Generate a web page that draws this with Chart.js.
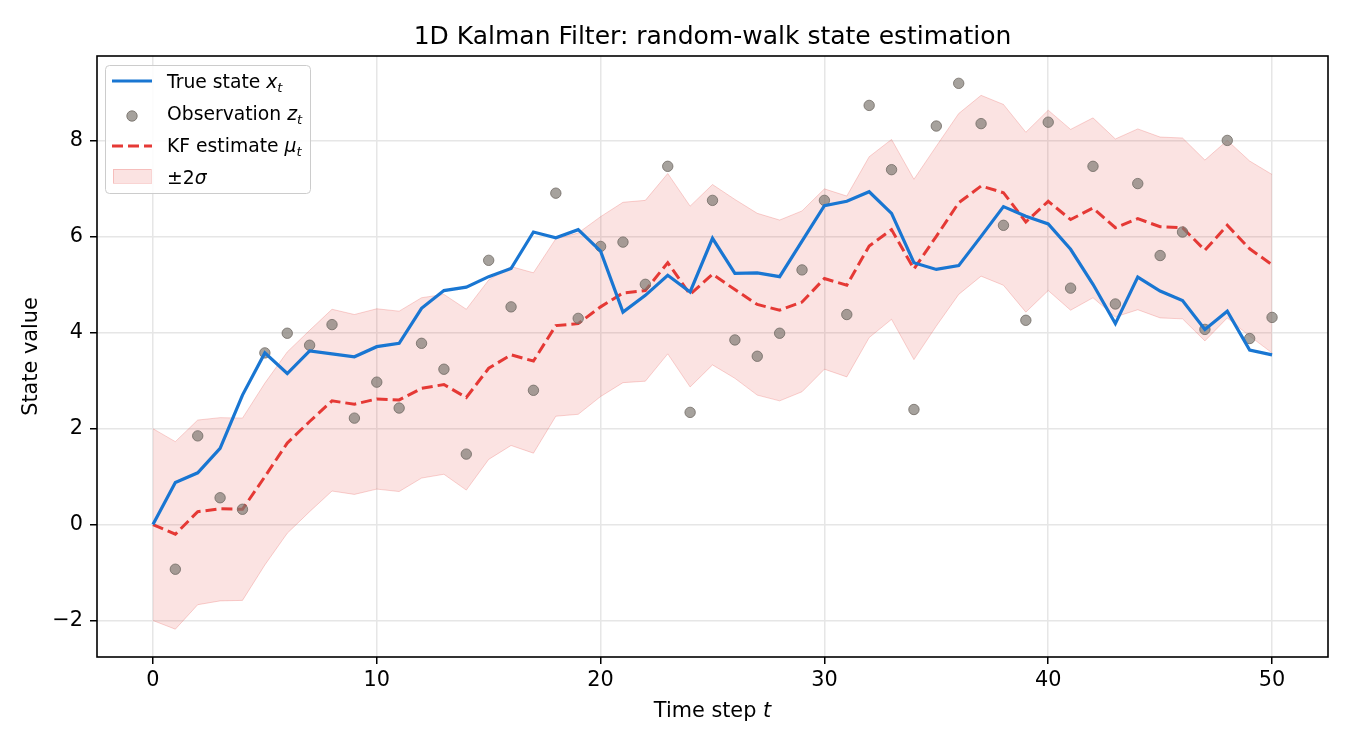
<!DOCTYPE html>
<html lang="en">
<head>
<meta charset="UTF-8">
<title>1D Kalman Filter: random-walk state estimation</title>
<style>
  html, body { margin: 0; padding: 0; background: #fff; }
  #wrap { width: 1350px; height: 750px; }
</style>
</head>
<body>
<div id="wrap"><canvas id="myChart" width="1350" height="750"></canvas></div>
<script src="https://cdn.jsdelivr.net/npm/chart.js"></script>
<script>
// values
const timeSteps = [0, 1, 2, 3, 4, 5, 6, 7, 8, 9, 10, 11, 12, 13, 14, 15, 16, 17, 18, 19, 20,
  21, 22, 23, 24, 25, 26, 27, 28, 29, 30, 31, 32, 33, 34, 35, 36, 37, 38, 39, 40,
  41, 42, 43, 44, 45, 46, 47, 48, 49, 50];

const trueState = [0, 0.88, 1.08, 1.59, 2.70, 3.58, 3.15, 3.62, 3.56, 3.50, 3.71,
  3.78, 4.51, 4.88, 4.95, 5.17, 5.34, 6.10, 5.98, 6.15, 5.70,
  4.43, 4.78, 5.20, 4.85, 5.97, 5.24, 5.25, 5.17, 5.91, 6.65,
  6.74, 6.94, 6.49, 5.46, 5.32, 5.40, 6.01, 6.63, 6.43, 6.27,
  5.74, 5.01, 4.19, 5.16, 4.87, 4.67, 4.07, 4.45, 3.64, 3.54];

const observations = [null, -0.93, 1.85, 0.56, 0.32, 3.58, 3.99, 3.74, 4.17, 2.22, 2.97,
  2.43, 3.78, 3.24, 1.47, 5.51, 4.54, 2.80, 6.91, 4.30, 5.80,
  5.89, 5.01, 7.47, 2.34, 6.76, 3.85, 3.51, 3.99, 5.31, 6.76,
  4.38, 8.74, 7.40, 2.40, 8.31, 9.20, 8.36, 6.24, 4.26, 8.39,
  4.93, 7.47, 4.60, 7.11, 5.61, 6.10, 4.07, 8.01, 3.88, 4.32];

const kfEstimate = [0, -0.20, 0.27, 0.33, 0.32, 1.00, 1.70, 2.15, 2.58, 2.51, 2.62,
  2.60, 2.84, 2.92, 2.65, 3.26, 3.54, 3.41, 4.15, 4.19, 4.54,
  4.83, 4.88, 5.46, 4.80, 5.22, 4.90, 4.59, 4.47, 4.64, 5.13,
  4.99, 5.81, 6.15, 5.33, 6.01, 6.71, 7.06, 6.92, 6.31, 6.74,
  6.36, 6.60, 6.19, 6.38, 6.21, 6.19, 5.72, 6.24, 5.75, 5.42];

const bandUpper = [2.00, 1.73, 2.18, 2.23, 2.22, 2.95, 3.60, 4.05, 4.49, 4.38, 4.50,
  4.45, 4.73, 4.80, 4.49, 5.10, 5.38, 5.25, 5.96, 6.08, 6.42,
  6.72, 6.76, 7.32, 6.64, 7.09, 6.78, 6.49, 6.35, 6.54, 7.00,
  6.85, 7.67, 8.03, 7.20, 7.89, 8.57, 8.95, 8.76, 8.18, 8.64,
  8.24, 8.48, 8.04, 8.25, 8.08, 8.06, 7.60, 8.01, 7.58, 7.30];

const bandLower = [-2.00, -2.18, -1.67, -1.59, -1.58, -0.84, -0.18, 0.27, 0.70, 0.63, 0.74,
  0.69, 0.97, 1.05, 0.72, 1.36, 1.65, 1.49, 2.26, 2.30, 2.67,
  2.96, 2.99, 3.56, 2.87, 3.33, 3.05, 2.70, 2.58, 2.77, 3.24,
  3.08, 3.90, 4.28, 3.44, 4.14, 4.80, 5.18, 4.99, 4.43, 4.88,
  4.47, 4.73, 4.33, 4.48, 4.31, 4.29, 3.83, 4.31, 3.93, 3.58];

const xTicks = [0, 10, 20, 30, 40, 50];
const yTicks = [-2, 0, 2, 4, 6, 8];

const FONT = '"DejaVu Sans", sans-serif';
const BLUE = '#1976d2';
const RED = '#e53935';
const BAND = 'rgba(229, 57, 53, 0.14)';
const BAND_EDGE = 'rgba(229, 57, 53, 0.22)';
const DOT = 'rgba(128, 122, 116, 0.7)';
const DOT_EDGE = 'rgba(112, 106, 100, 0.8)';

function pts(arr) {
  const out = [];
  for (let i = 0; i < timeSteps.length; i++) {
    if (arr[i] !== null) out.push({ x: timeSteps[i], y: arr[i] });
  }
  return out;
}

// draws pieces of text one after another (normal / italic / subscript)
function drawPieces(ctx, pieces, x, y, align) {
  let total = 0;
  for (const p of pieces) {
    ctx.font = p.font;
    total += ctx.measureText(p.text).width;
  }
  let cx = align === 'center' ? x - total / 2 : x;
  ctx.textAlign = 'left';
  ctx.textBaseline = 'alphabetic';
  for (const p of pieces) {
    ctx.font = p.font;
    ctx.fillText(p.text, cx, y + (p.dy || 0));
    cx += ctx.measureText(p.text).width;
  }
}

const decorPlugin = {
  id: 'decor',
  afterDraw(chart) {
    const ctx = chart.ctx;
    const a = chart.chartArea;
    ctx.save();

    // axes frame
    ctx.strokeStyle = '#000';
    ctx.lineWidth = 1.6;
    ctx.strokeRect(a.left, a.top, a.right - a.left, a.bottom - a.top);

    // title
    ctx.fillStyle = '#000';
    ctx.font = '25px ' + FONT;
    ctx.textAlign = 'center';
    ctx.textBaseline = 'alphabetic';
    ctx.fillText('1D Kalman Filter: random-walk state estimation', (a.left + a.right) / 2, 44);

    // x axis title
    drawPieces(ctx, [
      { text: 'Time step ', font: '20.8px ' + FONT },
      { text: 't', font: 'italic 20.8px ' + FONT }
    ], (a.left + a.right) / 2, 717, 'center');

    // legend
    const lx = 105.5, ly = 65.5, lw = 205, lh = 128;
    ctx.beginPath();
    ctx.roundRect(lx, ly, lw, lh, 4);
    ctx.fillStyle = 'rgba(255,255,255,0.85)';
    ctx.fill();
    ctx.strokeStyle = '#cccccc';
    ctx.lineWidth = 1;
    ctx.stroke();

    // row 1: true state
    ctx.strokeStyle = BLUE;
    ctx.lineWidth = 3.2;
    ctx.setLineDash([]);
    ctx.beginPath();
    ctx.moveTo(112, 81);
    ctx.lineTo(152, 81);
    ctx.stroke();

    // row 2: observation
    ctx.beginPath();
    ctx.arc(132, 116, 5.2, 0, Math.PI * 2);
    ctx.fillStyle = DOT;
    ctx.fill();
    ctx.strokeStyle = DOT_EDGE;
    ctx.lineWidth = 1;
    ctx.stroke();

    // row 3: KF estimate
    ctx.strokeStyle = RED;
    ctx.lineWidth = 3;
    ctx.setLineDash([11, 5]);
    ctx.beginPath();
    ctx.moveTo(112, 146);
    ctx.lineTo(152, 146);
    ctx.stroke();
    ctx.setLineDash([]);

    // row 4: band patch
    ctx.fillStyle = BAND;
    ctx.fillRect(113, 169, 38, 14);
    ctx.strokeStyle = BAND_EDGE;
    ctx.lineWidth = 1;
    ctx.strokeRect(113.5, 169.5, 38, 14);

    ctx.fillStyle = '#000';
    const nf = '18.75px ' + FONT, itf = 'italic 18.75px ' + FONT, sub = 'italic 13px ' + FONT;
    drawPieces(ctx, [{ text: 'True state ', font: nf }, { text: 'x', font: itf }, { text: 't', font: sub, dy: 4 }], 167, 88);
    drawPieces(ctx, [{ text: 'Observation ', font: nf }, { text: 'z', font: itf }, { text: 't', font: sub, dy: 4 }], 167, 120);
    drawPieces(ctx, [{ text: 'KF estimate ', font: nf }, { text: '\u03bc', font: itf }, { text: 't', font: sub, dy: 4 }], 167, 152);
    drawPieces(ctx, [{ text: '\u00b12', font: nf }, { text: '\u03c3', font: itf }], 167, 184);

    ctx.restore();
  }
};

const ctx = document.getElementById('myChart');

new Chart(ctx, {
  type: 'line',
  data: {
    datasets: [
      {
        label: 'True state',
        data: pts(trueState),
        borderColor: BLUE,
        borderWidth: 3.2,
        pointRadius: 0,
        tension: 0,
        fill: false
      },
      {
        type: 'scatter',
        label: 'Observation',
        data: pts(observations),
        showLine: false,
        pointRadius: 5.2,
        pointBackgroundColor: DOT,
        pointBorderColor: DOT_EDGE,
        pointBorderWidth: 1
      },
      {
        label: 'KF estimate',
        data: pts(kfEstimate),
        borderColor: RED,
        borderWidth: 3,
        borderDash: [11, 5],
        pointRadius: 0,
        tension: 0,
        fill: false
      },
      {
        label: 'lower',
        data: pts(bandLower),
        borderColor: BAND_EDGE,
        borderWidth: 1,
        pointRadius: 0,
        tension: 0,
        fill: false
      },
      {
        label: '\u00b12\u03c3',
        data: pts(bandUpper),
        borderColor: BAND_EDGE,
        borderWidth: 1,
        pointRadius: 0,
        tension: 0,
        backgroundColor: BAND,
        fill: '-1'
      }
    ]
  },
  options: {
    responsive: false,
    animation: false,
    devicePixelRatio: 1,
    layout: { padding: { top: 56, right: 22, left: 0, bottom: 0 } },
    plugins: {
      legend: { display: false },
      title: { display: false },
      tooltip: { enabled: false }
    },
    scales: {
      x: {
        type: 'linear',
        min: -2.5,
        max: 52.5,
        afterBuildTicks: (scale) => { scale.ticks = xTicks.map(v => ({ value: v })); },
        afterFit: (scale) => { scale.height = 93; },
        border: { display: false },
        grid: {
          color: '#e6e6e6',
          lineWidth: 1.5,
          drawTicks: true,
          tickLength: 7,
          tickColor: '#000',
          tickWidth: 1.5
        },
        ticks: {
          autoSkip: false,
          maxRotation: 0,
          padding: 4,
          color: '#000',
          font: { family: FONT, size: 20.8 },
          callback: (v) => String(v)
        }
      },
      y: {
        type: 'linear',
        min: -2.76,
        max: 9.77,
        afterBuildTicks: (scale) => { scale.ticks = yTicks.map(v => ({ value: v })); },
        afterFit: (scale) => { scale.width = 97; },
        border: { display: false },
        grid: {
          color: '#e6e6e6',
          lineWidth: 1.5,
          drawTicks: true,
          tickLength: 7,
          tickColor: '#000',
          tickWidth: 1.5
        },
        ticks: {
          autoSkip: false,
          padding: 7,
          color: '#000',
          font: { family: FONT, size: 20.8 },
          callback: (v) => (v < 0 ? '\u2212' + Math.abs(v) : String(v))
        },
        title: {
          display: true,
          text: 'State value',
          color: '#000',
          font: { family: FONT, size: 20.8 },
          padding: { top: 19, bottom: 0 }
        }
      }
    }
  },
  plugins: [decorPlugin]
});
</script>
</body>
</html>
